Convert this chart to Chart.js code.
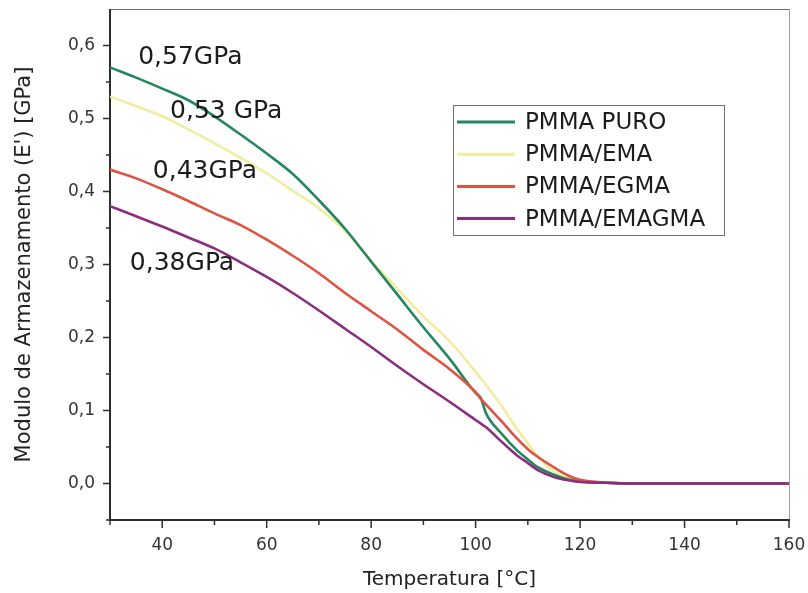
<!DOCTYPE html>
<html>
<head>
<meta charset="utf-8">
<script src="https://cdn.jsdelivr.net/npm/chart.js@4.4.1/dist/chart.umd.min.js"></script>
<style>
  html, body { margin: 0; padding: 0; background: #ffffff; }
  #wrap { width: 808px; height: 593px; }
</style>
</head>
<body>
<div id="wrap"><canvas id="c" width="808" height="593"></canvas></div>
<script>
// Storage modulus E' (GPa) versus temperature (°C)
const temperatures = [30, 35, 40, 45, 50, 55, 60, 65, 70, 75, 80, 85, 90, 95, 100, 101, 102, 105, 108, 110, 112, 115, 118, 120, 125, 130, 140, 150, 160];

const pmmaPuro   = [0.57, 0.556, 0.541, 0.525, 0.503, 0.478, 0.452, 0.424, 0.388, 0.349, 0.304, 0.259, 0.214, 0.171, 0.124, 0.117, 0.096, 0.068, 0.045, 0.033, 0.022, 0.012, 0.005, 0.003, 0.001, 0, 0, 0, 0];
const pmmaEma    = [0.53, 0.517, 0.503, 0.485, 0.466, 0.446, 0.425, 0.401, 0.377, 0.346, 0.305, 0.267, 0.229, 0.195, 0.153, 0.144, 0.135, 0.106, 0.074, 0.055, 0.036, 0.016, 0.007, 0.003, 0.001, 0, 0, 0, 0];
const pmmaEgma   = [0.43, 0.418, 0.403, 0.387, 0.370, 0.354, 0.334, 0.312, 0.288, 0.261, 0.236, 0.211, 0.183, 0.157, 0.125, 0.116, 0.108, 0.085, 0.061, 0.047, 0.036, 0.022, 0.010, 0.005, 0.001, 0, 0, 0, 0];
const pmmaEmagma = [0.38, 0.366, 0.352, 0.337, 0.322, 0.303, 0.283, 0.261, 0.237, 0.212, 0.187, 0.161, 0.136, 0.112, 0.087, 0.082, 0.077, 0.057, 0.038, 0.028, 0.018, 0.009, 0.004, 0.002, 0.001, 0, 0, 0, 0];

const seriesNames  = ['PMMA PURO', 'PMMA/EMA', 'PMMA/EGMA', 'PMMA/EMAGMA'];
const seriesValues = [pmmaPuro, pmmaEma, pmmaEgma, pmmaEmagma];
const seriesColors = ['#24875f', '#f1eda0', '#de5342', '#8a2f80'];
const drawOrder    = [2, 3, 1, 0];

const xTicks = [40, 60, 80, 100, 120, 140, 160];
const xMinorTicks = [30, 50, 70, 90, 110, 130, 150];
const yTicks = [0.0, 0.1, 0.2, 0.3, 0.4, 0.5, 0.6];
const yMinorTicks = [-0.05, 0.05, 0.15, 0.25, 0.35, 0.45, 0.55];

// Initial-modulus callouts: text comes from each series' first value
const calloutSeparators = ['', ' ', '', ''];
const calloutAnchorsX = [35.4, 41.5, 38.2, 33.8];
const calloutAnchorsY = [0.575, 0.501, 0.419, 0.293];

const FONT = 'DejaVu Sans';
const comma = (v, d) => v.toFixed(d).replace('.', ',');

const datasets = seriesNames.map((name, i) => ({
  label: name,
  data: temperatures.map((t, k) => ({ x: t, y: seriesValues[i][k] })),
  borderColor: seriesColors[i],
  backgroundColor: seriesColors[i],
  borderWidth: 2.6,
  pointRadius: 0,
  cubicInterpolationMode: 'monotone',
  fill: false,
  order: drawOrder[i]
}));

// Axis frame plus major/minor tick marks
const framePlugin = {
  id: 'frame',
  beforeDatasetsDraw(chart) {
    const { ctx, chartArea: a, scales: { x, y } } = chart;
    const seg = (x1, y1, x2, y2) => { ctx.beginPath(); ctx.moveTo(x1, y1); ctx.lineTo(x2, y2); ctx.stroke(); };
    ctx.save();
    ctx.lineCap = 'butt';
    ctx.strokeStyle = '#6f6f6f';
    ctx.lineWidth = 1;
    seg(a.left, a.top + 0.5, a.right, a.top + 0.5);
    ctx.strokeStyle = '#a0a0a0';
    seg(a.right + 0.5, a.top, a.right + 0.5, a.bottom);
    ctx.strokeStyle = '#2e2e2e';
    ctx.lineWidth = 2;
    seg(a.left, a.top, a.left, a.bottom + 1);
    seg(a.left - 1, a.bottom, a.right + 1, a.bottom);
    ctx.lineWidth = 1.5;
    xTicks.forEach(v => { const p = x.getPixelForValue(v); seg(p, a.bottom, p, a.bottom + 8); });
    xMinorTicks.forEach(v => { const p = x.getPixelForValue(v); seg(p, a.bottom, p, a.bottom + 5); });
    yTicks.forEach(v => { const p = y.getPixelForValue(v); seg(a.left, p, a.left - 7, p); });
    yMinorTicks.forEach(v => { const p = y.getPixelForValue(v); seg(a.left, p, a.left - 4, p); });
    ctx.restore();
  }
};

// Boxed legend inside the plot and the value callouts
const overlayPlugin = {
  id: 'overlay',
  afterDatasetsDraw(chart) {
    const { ctx, scales: { x, y } } = chart;
    ctx.save();
    ctx.fillStyle = '#1c1c1c';
    ctx.textAlign = 'left';
    ctx.textBaseline = 'alphabetic';
    ctx.font = '25px "' + FONT + '"';
    seriesValues.forEach((vals, i) => {
      const text = comma(vals[0], 2) + calloutSeparators[i] + 'GPa';
      ctx.fillText(text, x.getPixelForValue(calloutAnchorsX[i]), y.getPixelForValue(calloutAnchorsY[i]));
    });

    const box = { left: 453, top: 105, width: 271, height: 130 };
    ctx.fillStyle = '#ffffff';
    ctx.fillRect(box.left, box.top, box.width, box.height);
    ctx.strokeStyle = '#707070';
    ctx.lineWidth = 1;
    ctx.strokeRect(box.left + 0.5, box.top + 0.5, box.width, box.height);
    ctx.font = '23px "' + FONT + '"';
    ctx.textBaseline = 'middle';
    chart.data.datasets.forEach((ds, i) => {
      const rowY = 122 + i * 32.2;
      ctx.strokeStyle = ds.borderColor;
      ctx.lineWidth = 3;
      ctx.beginPath();
      ctx.moveTo(457, rowY);
      ctx.lineTo(515, rowY);
      ctx.stroke();
      ctx.fillStyle = '#1c1c1c';
      ctx.fillText(ds.label, 525, rowY + 1);
    });
    ctx.restore();
  }
};

Chart.defaults.font.family = FONT;

new Chart(document.getElementById('c'), {
  type: 'line',
  data: { datasets },
  plugins: [framePlugin, overlayPlugin],
  options: {
    responsive: false,
    animation: false,
    devicePixelRatio: 1,
    layout: { padding: { top: 9, right: 19, bottom: 0, left: 0 } },
    plugins: { legend: { display: false }, tooltip: { enabled: false } },
    scales: {
      x: {
        type: 'linear',
        min: 30,
        max: 160,
        afterBuildTicks: s => { s.ticks = xTicks.map(v => ({ value: v })); },
        afterFit: s => { s.height = 73; s.paddingLeft = 0; s.paddingRight = 0; },
        grid: { display: false, drawTicks: false },
        border: { display: false },
        ticks: { padding: 15, autoSkip: false, maxRotation: 0, color: '#333333', font: { size: 17 } },
        title: { display: true, text: 'Temperatura [°C]', color: '#222222', font: { size: 20 }, padding: { top: 0, bottom: 1 } }
      },
      y: {
        type: 'linear',
        min: -0.05,
        max: 0.65,
        afterBuildTicks: s => { s.ticks = yTicks.map(v => ({ value: v })); },
        afterFit: s => { s.width = 110; s.paddingTop = 0; s.paddingBottom = 0; },
        grid: { display: false, drawTicks: false },
        border: { display: false },
        ticks: { padding: 15, color: '#333333', font: { size: 17 }, callback: v => comma(v, 1) },
        title: { display: true, text: "Modulo de Armazenamento (E') [GPa]", color: '#222222', font: { size: 21 }, padding: { top: 12, bottom: 0 } }
      }
    }
  }
});
</script>
</body>
</html>
